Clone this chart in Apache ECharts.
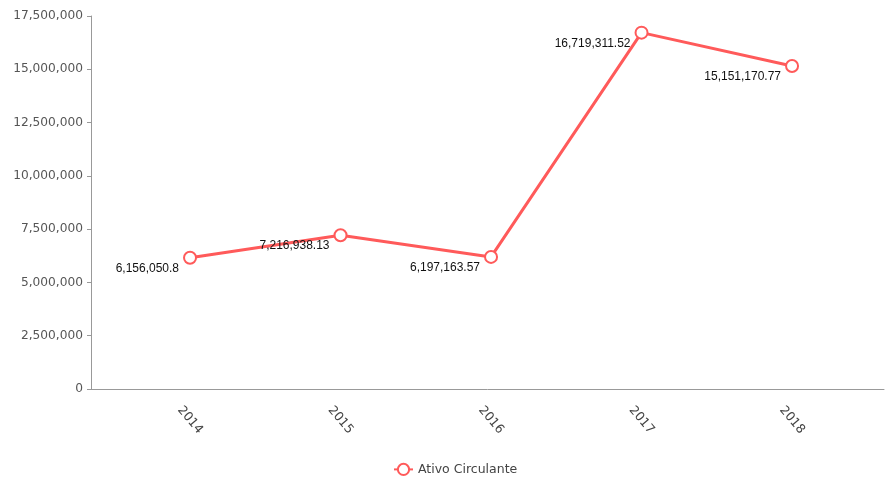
<!DOCTYPE html>
<html>
<head>
<meta charset="utf-8">
<script src="https://cdn.jsdelivr.net/npm/echarts@6/dist/echarts.min.js"></script>
<style>html,body{margin:0;padding:0;background:#fff;}#c{width:885px;height:481px;}</style>
</head>
<body>
<div id="c"></div>
<script>
var categories = ['2014', '2015', '2016', '2017', '2018'];
var seriesName = 'Ativo Circulante';
var values = [6156050.8, 7216938.13, 6197163.57, 16719311.52, 15151170.77];
var yTicks = [0, 2500000, 5000000, 7500000, 10000000, 12500000, 15000000, 17500000];

var chart = echarts.init(document.getElementById('c'));
var pts = values.map(function (v, i) { return [i, v]; });
function fmt(v) {
  var parts = String(v).split('.');
  parts[0] = parts[0].replace(/\B(?=(\d{3})+(?!\d))/g, ',');
  return parts.join('.');
}
chart.setOption({
  animation: false,
  backgroundColor: '#fff',
  grid: { left: 91, right: 1, top: 16, bottom: 92 },
  xAxis: {
    type: 'value',
    min: -0.658,
    max: 4.611,
    splitLine: { show: false },
    axisLine: { show: true, onZero: false, lineStyle: { color: '#999', width: 1 } },
    axisTick: { show: false },
    axisLabel: {
      customValues: [0, 1, 2, 3, 4],
      rotate: -50,
      align: 'center',
      verticalAlign: 'middle',
      margin: 31,
      color: '#444',
      fontFamily: 'DejaVu Sans',
      fontSize: 12.5,
      formatter: function (v) { return categories[Math.round(v)]; }
    }
  },
  yAxis: {
    type: 'value',
    min: yTicks[0],
    max: yTicks[yTicks.length - 1],
    interval: 2500000,
    splitLine: { show: false },
    axisLine: { show: true, onZero: false, lineStyle: { color: '#999', width: 1 } },
    axisTick: { show: true, length: 4, lineStyle: { color: '#999' } },
    axisLabel: {
      color: '#555',
      fontFamily: 'DejaVu Sans',
      fontSize: 12.2,
      margin: 8,
      formatter: function (v) { return fmt(v); }
    }
  },
  legend: {
    bottom: 0,
    left: 388,
    itemWidth: 19,
    itemHeight: 14,
    itemGap: 10,
    textStyle: { color: '#444', fontFamily: 'DejaVu Sans', fontSize: 12.5 },
    data: [seriesName]
  },
  series: [{
    name: seriesName,
    type: 'line',
    data: pts,
    symbol: 'emptyCircle',
    symbolSize: 12,
    color: '#ff5a5a',
    lineStyle: { color: '#ff5a5a', width: 3 },
    itemStyle: { color: '#ff5a5a', borderWidth: 2 },
    label: {
      show: true,
      position: 'left',
      distance: 4,
      offset: [0, 11],
      color: '#111',
      fontFamily: 'Liberation Sans',
      fontSize: 12,
      formatter: function (p) { return fmt(p.value[1]); }
    }
  }]
});
</script>
</body>
</html>
